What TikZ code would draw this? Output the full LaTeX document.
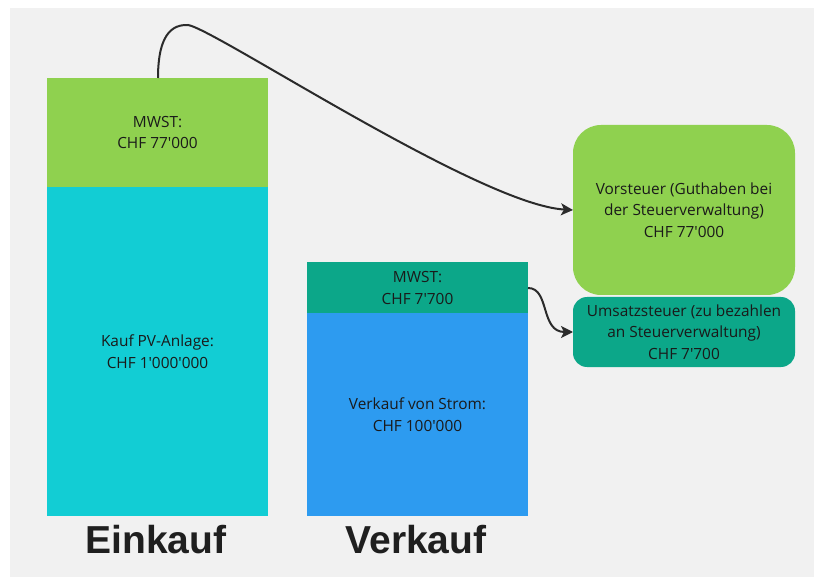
\documentclass[tikz,border=0pt]{standalone}
\usepackage{fontspec}
\setmainfont{Open Sans}[Ligatures=TeXOff]
\newfontfamily\labelfont{Liberation Sans}
\usetikzlibrary{arrows.meta}
\definecolor{bggray}{HTML}{F1F1F1}
\definecolor{mgreen}{HTML}{8FD14F}
\definecolor{mcyan}{HTML}{12CDD4}
\definecolor{mteal}{HTML}{0CA789}
\definecolor{mblue}{HTML}{2D9BF0}
\definecolor{ink}{HTML}{1A1A1A}
\definecolor{linec}{HTML}{2B2B2B}
\tikzset{
  box/.style={inner sep=0pt, outer sep=0pt, align=center, text=ink,
    font=\fontsize{15.4}{21.5}\selectfont},
  bigl/.style={inner sep=0pt, text=black!88, font=\labelfont\bfseries\fontsize{39}{44}\selectfont},
  conn/.style={draw=linec, line width=2pt, -{Stealth[length=12pt,width=12pt,inset=3pt]}}
}
\begin{document}
\begin{tikzpicture}[x=1pt,y=-1pt]
\useasboundingbox (0,0) rectangle (814,577);
\fill[white] (0,0) rectangle (814,577);
\fill[bggray] (10,8) rectangle (814,577);
\node[box, fill=mgreen, minimum width=221pt, minimum height=109pt] (m1) at (157.5,132.5) {MWST:\\CHF 77'000};
\node[box, fill=mcyan, minimum width=221pt, minimum height=329pt] (k1) at (157.5,351.5) {Kauf PV-Anlage:\\CHF 1'000'000};
\node[box, fill=mteal, minimum width=221pt, minimum height=51pt] (m2) at (417.5,288) {MWST:\\CHF 7'700};
\node[box, fill=mblue, minimum width=221pt, minimum height=203pt] (k2) at (417.5,414.5) {Verkauf von Strom:\\CHF 100'000};
\node[box, fill=mgreen, rounded corners=28pt, minimum width=222pt, minimum height=170pt] (vs) at (684,210) {Vorsteuer (Guthaben bei\\der Steuerverwaltung)\\CHF 77'000};
\node[box, fill=mteal, rounded corners=14pt, minimum width=222pt, minimum height=70pt] (us) at (684,332) {Umsatzsteuer (zu bezahlen\\an Steuerverwaltung)\\CHF 7'700};
\node[bigl, anchor=base] (ek) at (156,553) {Einkauf};
\node[bigl, anchor=base] (vk) at (416,553) {Verkauf};
\coordinate (top) at (188,25);
\draw[conn] ([xshift=0.5pt]m1.north) .. controls (158,45) and (166,24) .. (top) .. controls (215,29) and (480,205) .. (vs.west);
\draw[conn] (m2.east) .. controls (550,288) and (540,332) .. (us.west);
\end{tikzpicture}
\end{document}
